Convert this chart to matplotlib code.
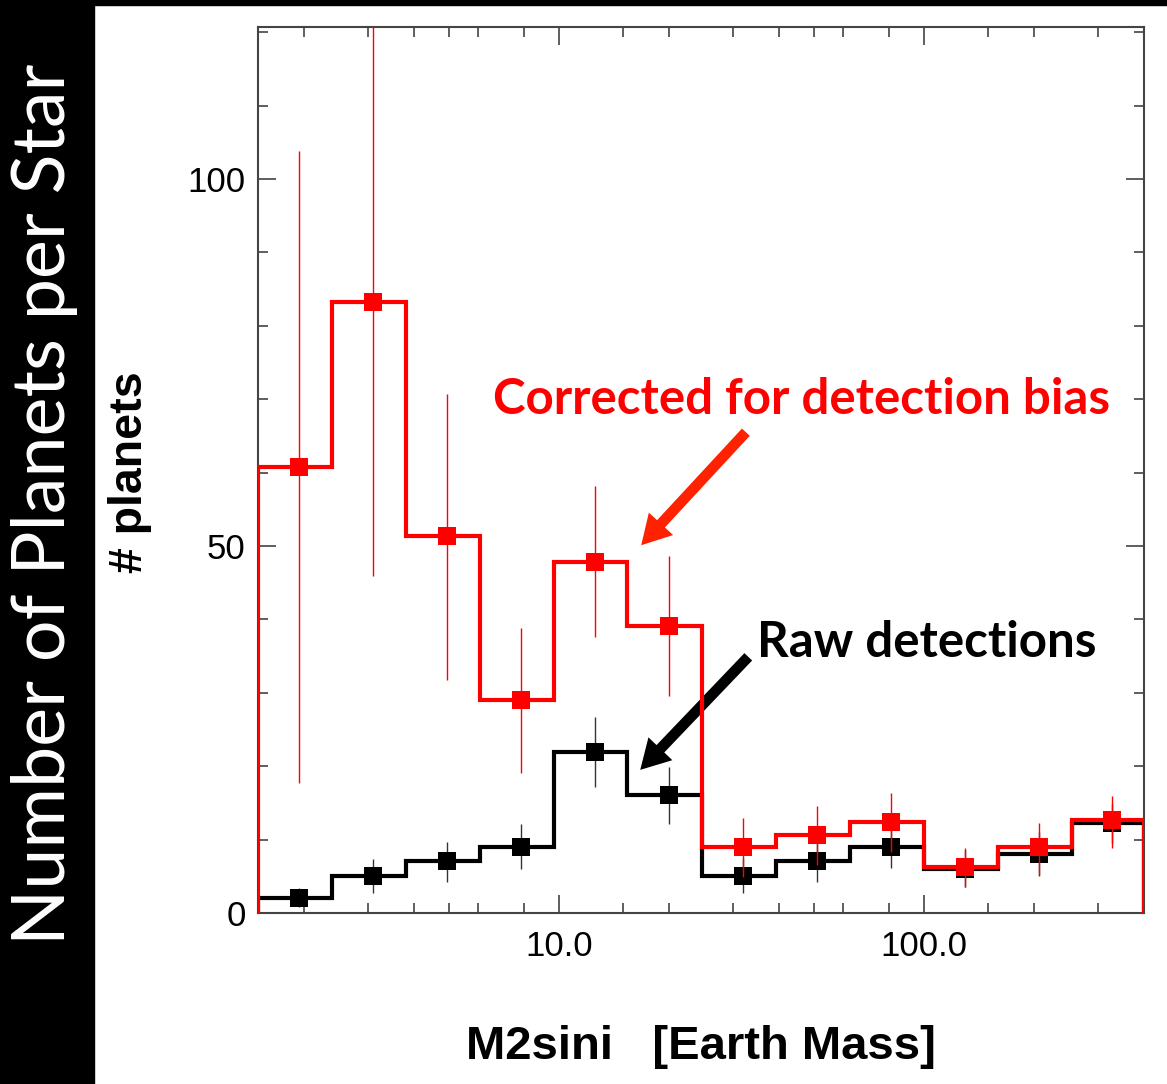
import matplotlib
matplotlib.use("Agg")
import matplotlib.pyplot as plt
from matplotlib.patches import Rectangle
from matplotlib.ticker import FixedLocator, NullFormatter

# bin edges in Earth masses (log spaced)
bord_bins = [1.5, 2.39, 3.81, 6.08, 9.69, 15.4, 24.6, 39.3, 62.6, 99.8, 159.0, 254.0, 400.0]

# raw detections (black)
brut = [2.0, 5.0, 7.1, 9.0, 22.0, 16.1, 5.0, 7.1, 9.0, 6.0, 8.0, 12.2]
brut_bas = [0.8, 2.7, 4.2, 6.0, 17.2, 12.1, 2.7, 4.2, 6.1, 3.6, 5.0, 9.6]
brut_haut = [3.4, 7.4, 9.7, 12.1, 26.7, 19.9, 7.5, 10.0, 12.2, 8.6, 11.0, 14.8]

# corrected for detection bias (red)
corr = [60.8, 83.2, 51.4, 29.0, 47.8, 39.1, 9.0, 10.6, 12.4, 6.3, 9.0, 12.7]
corr_bas = [17.7, 45.9, 31.7, 19.1, 37.6, 29.6, 4.9, 6.5, 8.3, 3.5, 5.2, 8.9]
corr_haut = [103.8, 130.0, 70.7, 38.8, 58.2, 48.6, 12.9, 14.6, 16.3, 8.9, 12.3, 15.9]

ticks_majeurs_x = [10, 100]
labels_x = ["10.0", "100.0"]
ticks_mineurs_x = [2, 3, 4, 5, 6, 8, 15, 20, 30, 40, 50, 60, 80, 150, 200, 300]
ticks_majeurs_y = [0, 50, 100]
ticks_mineurs_y = [10, 20, 30, 40, 60, 70, 80, 90, 110, 120]

W, H = 1167, 1084
fig = plt.figure(figsize=(W / 100, H / 100), dpi=100)

# black frame (left strip + thin top band)
fig.patches.append(Rectangle((0, 0), 94 / W, 1, transform=fig.transFigure, color="black", zorder=0))
fig.patches.append(Rectangle((0, 1 - 5 / H), 1, 5 / H, transform=fig.transFigure, color="black", zorder=0))
fig.text(45 / W, 1 - 504 / H, "Number of Planets per Star", rotation=90, color="white",
         ha="center", va="center", fontsize=53, family=["Lato", "DejaVu Sans"], fontweight="normal")

ax = fig.add_axes([258 / W, 1 - 913 / H, (1144 - 258) / W, (913 - 27) / H])
ax.set_xscale("log")

centres = [(bord_bins[i] + bord_bins[i + 1]) / 2 for i in range(len(brut))]

def tracer(vals, bas, haut, couleur, couleur_err, ms, z):
    ax.stairs(vals, bord_bins, baseline=0, fill=False, color=couleur, lw=3.0, zorder=z)
    yerr = [[v - b for v, b in zip(vals, bas)], [h - v for v, h in zip(vals, haut)]]
    ax.errorbar(centres, vals, yerr=yerr, fmt="s", color=couleur, ecolor=couleur_err,
                elinewidth=1.0, capsize=0, markersize=ms, markeredgewidth=0, zorder=z + 1)

tracer(brut, brut_bas, brut_haut, "black", "#333333", 12.5, 2)
tracer(corr, corr_bas, corr_haut, "#ff0000", "#ff0000", 13.5, 4)

ax.set_xlim(1.5, 400)
ax.set_ylim(0, 120.7)

ax.xaxis.set_major_locator(FixedLocator(ticks_majeurs_x))
ax.set_xticklabels(labels_x)
ax.xaxis.set_minor_locator(FixedLocator(ticks_mineurs_x))
ax.xaxis.set_minor_formatter(NullFormatter())
ax.yaxis.set_major_locator(FixedLocator(ticks_majeurs_y))
ax.yaxis.set_minor_locator(FixedLocator(ticks_mineurs_y))

ax.tick_params(which="both", direction="in", top=True, right=True, color="#333333", width=1.1)
ax.tick_params(which="major", length=13)
ax.tick_params(which="minor", length=7)
ax.tick_params(axis="y", which="major", labelsize=25, pad=9)
ax.tick_params(axis="x", which="major", labelsize=25, pad=12)
for lab in ax.get_xticklabels() + ax.get_yticklabels():
    lab.set_family("Liberation Sans")

for sp in ax.spines.values():
    sp.set_color("#444444")
    sp.set_linewidth(1.5)

ax.set_xlabel("M2sini   [Earth Mass]", fontsize=34, fontweight="bold", family="Liberation Sans")
ax.xaxis.set_label_coords(0.5, -0.126)
ax.set_ylabel("# planets", fontsize=33.5, fontweight="bold", family="Liberation Sans")
ax.yaxis.set_label_coords(-0.12, 0.497)

# annotations
style_fleche = "simple,head_width=1.7,head_length=1.5,tail_width=0.55"
ax.annotate("", xy=(16.8, 50.1), xytext=(32.5, 65.5),
            arrowprops=dict(arrowstyle=style_fleche, color="#ff2200", mutation_scale=14,
                            shrinkA=0, shrinkB=0, lw=0))
ax.text(46.3, 69.9, "Corrected for detection bias", color="#ff0000", fontsize=35.5,
        fontweight="bold", family=["Lato", "DejaVu Sans"], ha="center", va="center")

ax.annotate("", xy=(16.7, 19.5), xytext=(33.0, 34.9),
            arrowprops=dict(arrowstyle=style_fleche, color="black", mutation_scale=14,
                            shrinkA=0, shrinkB=0, lw=0))
ax.text(101.9, 36.8, "Raw detections", color="black", fontsize=35.5,
        fontweight="bold", family=["Lato", "DejaVu Sans"], ha="center", va="center")

fig.savefig("out.png", dpi=100)
